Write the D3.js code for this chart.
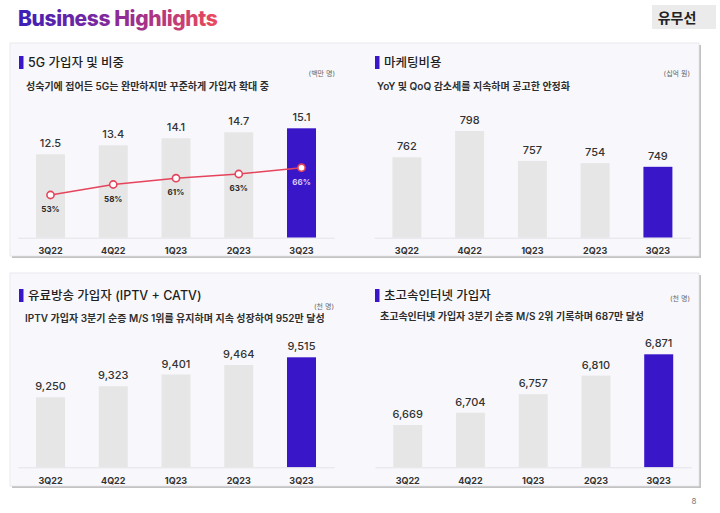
<!DOCTYPE html>
<html>
<head>
<meta charset="utf-8">
<script src="https://cdn.jsdelivr.net/npm/d3@7"></script>
<style>
  html, body { margin: 0; padding: 0; background: #fff; }
  svg { display: block; }
  text { font-family: Inter, "Noto Sans CJK KR", sans-serif; }
</style>
</head>
<body>
<svg id="chart" width="720" height="513"></svg>
<script>
// ---- data ----
const quarters = ["3Q22", "4Q22", "1Q23", "2Q23", "3Q23"];
const subs5G = [12.5, 13.4, 14.1, 14.7, 15.1];
const share5G = [53, 58, 61, 63, 66];
const marketing = [762, 798, 757, 754, 749];
const payTV = [9250, 9323, 9401, 9464, 9515];
const broadband = [6669, 6704, 6757, 6810, 6871];

const pageTitle = "Business Highlights";
const sectionTag = "유무선";
const titles = ["5G 가입자 및 비중", "마케팅비용", "유료방송 가입자 (IPTV + CATV)", "초고속인터넷 가입자"];
const subtitles = [
  "성숙기에 접어든 5G는 완만하지만 꾸준하게 가입자 확대 중",
  "YoY 및 QoQ  감소세를 지속하며 공고한 안정화",
  "IPTV 가입자 3분기 순증 M/S 1위를 유지하며 지속 성장하여 952만 달성",
  "초고속인터넷 가입자 3분기 순증 M/S 2위 기록하며 687만 달성"
];
const units = ["(백만 명)", "(십억 원)", "(천 명)", "(천 명)"];

const PURPLE = "#3a16c9";
const GREY_BAR = "#e6e6e6";
const RED = "#e5445c";

const svg = d3.select("#chart");
const defs = svg.append("defs");
const grad = defs.append("linearGradient").attr("id", "tg")
  .attr("gradientUnits", "userSpaceOnUse").attr("x1", 18).attr("x2", 216).attr("y1", 0).attr("y2", 0);
grad.append("stop").attr("offset", "0%").attr("stop-color", "#3b1fb8");
grad.append("stop").attr("offset", "50%").attr("stop-color", "#8a2a98");
grad.append("stop").attr("offset", "100%").attr("stop-color", "#ea4a5c");

// page title
svg.append("text").attr("x", 18).attr("y", 26)
  .attr("font-size", 21).attr("font-weight", 800).attr("letter-spacing", -0.4)
  .attr("fill", "url(#tg)").text(pageTitle);

// section tag
svg.append("rect").attr("x", 652).attr("y", 5).attr("width", 64).attr("height", 24).attr("fill", "#ebebeb");
svg.append("text").attr("x", 677).attr("y", 23).attr("text-anchor", "middle")
  .attr("font-size", 14).attr("font-weight", 700).attr("fill", "#222").text(sectionTag);

// page number
svg.append("text").attr("x", 694).attr("y", 504).attr("text-anchor", "middle")
  .attr("font-size", 8).attr("fill", "#777").text("8");

// row boxes
function rowBox(y, h) {
  svg.append("rect").attr("x", 12).attr("y", y + 2).attr("width", 689).attr("height", h).attr("fill", "#c2c2c2");
  svg.append("rect").attr("x", 10).attr("y", y).attr("width", 689).attr("height", h)
    .attr("fill", "#f8f8fc").attr("stroke", "#e4e4ea").attr("stroke-width", 0.8);
}
rowBox(43, 213);
rowBox(273, 213);

function header(i, x0, yTitle, ySub, yUnit, unitRight, subX) {
  svg.append("rect").attr("x", x0).attr("y", yTitle - 11).attr("width", 4.5).attr("height", 13).attr("fill", PURPLE);
  svg.append("text").attr("x", x0 + 9).attr("y", yTitle)
    .attr("font-size", 12.5).attr("font-weight", 500).attr("fill", "#1e1e1e").text(titles[i]);
  svg.append("text").attr("x", subX).attr("y", ySub)
    .attr("font-size", 10).attr("font-weight", 600).attr("fill", "#2e2e2e").text(subtitles[i]);
  svg.append("text").attr("x", unitRight).attr("y", yUnit).attr("text-anchor", "end")
    .attr("font-size", 7).attr("fill", "#666").text(units[i]);
}
header(0, 19, 67, 90, 76, 335, 26);
header(1, 375, 67, 90, 76, 690, 377);
header(2, 19, 300, 322, 309, 334, 25);
header(3, 375, 300, 320, 301, 690, 380);

function barChart(values, xRange, baseY, domain, topY, fmt) {
  const x = d3.scaleBand().domain(quarters).range(xRange).paddingInner(0.538).paddingOuter(0.29);
  const y = d3.scaleLinear().domain(domain).range([baseY, topY]);
  const g = svg.append("g");
  g.selectAll("rect.bar").data(values).enter().append("rect")
    .attr("class", "bar")
    .attr("x", (d, i) => x(quarters[i]))
    .attr("width", x.bandwidth())
    .attr("y", d => y(d))
    .attr("height", d => baseY - y(d))
    .attr("fill", (d, i) => i === values.length - 1 ? PURPLE : GREY_BAR);
  // baseline axis
  const axis = d3.axisBottom(x).tickSize(0).tickPadding(10);
  const ag = g.append("g").attr("transform", `translate(0,${baseY})`).call(axis);
  ag.select(".domain").attr("stroke", "#e4e4e8").attr("stroke-width", 1);
  ag.selectAll("text").attr("font-size", 9).attr("font-weight", 700).attr("fill", "#333")
    .style("font-family", 'Inter, "Noto Sans CJK KR", sans-serif');
  // value labels
  g.selectAll("text.val").data(values).enter().append("text")
    .attr("class", "val")
    .attr("x", (d, i) => x(quarters[i]) + x.bandwidth() / 2)
    .attr("y", d => y(d) - 7)
    .attr("text-anchor", "middle").attr("font-size", 11).attr("font-weight", 500).attr("fill", "#333")
    .text(d => fmt(d));
  return { x, y, g };
}

const c1 = barChart(subs5G, [17.8, 334.2], 237.7, [4.16, 15.1], 128.3, d3.format(".1f"));
barChart(marketing, [374.2, 690.6], 237.7, [652, 798], 131, d3.format("d"));
barChart(payTV, [17.8, 334.2], 467.3, [8786, 9515], 357.3, d3.format(","));
barChart(broadband, [375, 691.4], 467.3, [6548, 6871], 354.3, d3.format(","));

// 5G share line
const yp = d3.scaleLinear().domain([0, 100]).range([306.3, 96.3]);
const cx = (d, i) => c1.x(quarters[i]) + c1.x.bandwidth() / 2;
const line = d3.line().x((d, i) => cx(d, i)).y(d => yp(d));
svg.append("path").datum(share5G).attr("d", line)
  .attr("fill", "none").attr("stroke", RED).attr("stroke-width", 1.6);
svg.selectAll("circle.pt").data(share5G).enter().append("circle")
  .attr("class", "pt").attr("cx", cx).attr("cy", d => yp(d)).attr("r", 3.6)
  .attr("fill", "#fff").attr("stroke", RED).attr("stroke-width", 1.6);
svg.selectAll("text.pct").data(share5G).enter().append("text")
  .attr("class", "pct").attr("x", cx).attr("y", d => yp(d) + 17)
  .attr("text-anchor", "middle").attr("font-size", 8).attr("font-weight", 700)
  .attr("fill", (d, i) => i === share5G.length - 1 ? "#d6cdf5" : "#2a2a2a")
  .text(d => d + "%");
</script>
</body>
</html>
